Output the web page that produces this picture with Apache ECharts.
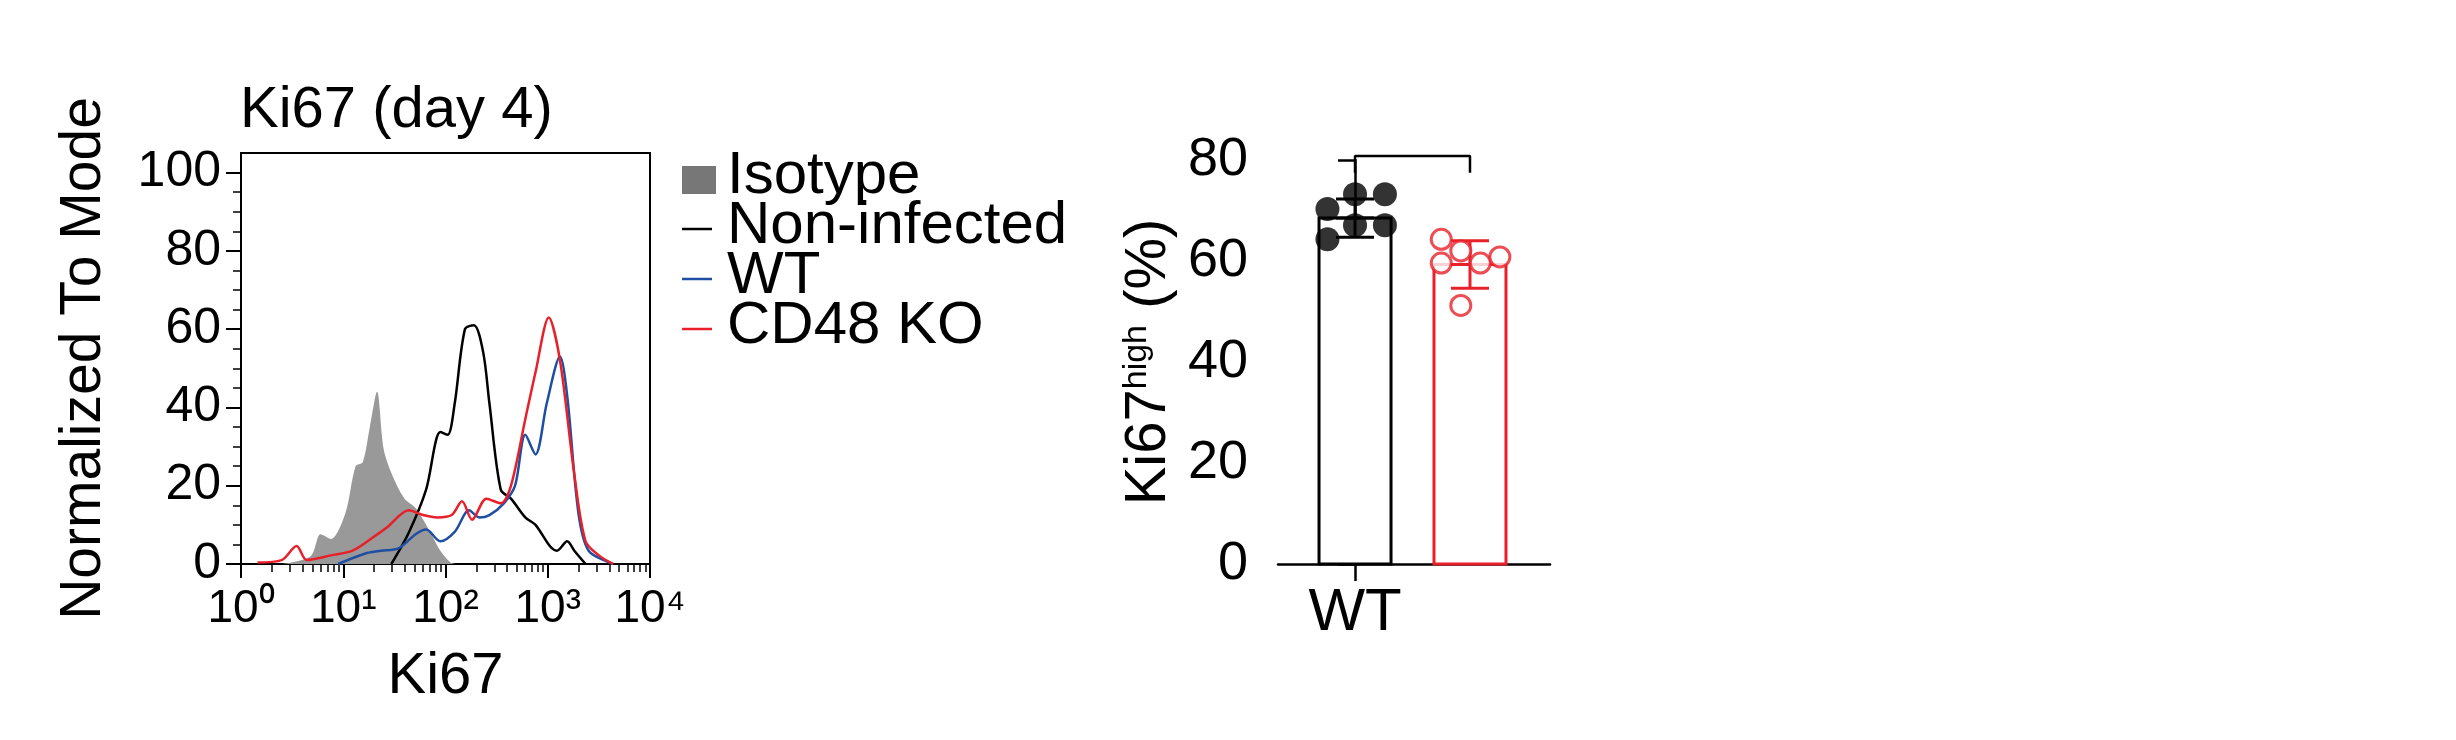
<!DOCTYPE html>
<html><head><meta charset="utf-8">
<script src="https://cdn.jsdelivr.net/npm/echarts@6/dist/echarts.min.js"></script>
<style>html,body{margin:0;background:#fff}#c{width:2456px;height:740px}</style></head>
<body><div id="c"></div>
<script>
// Histogram data: [Ki67 intensity, % of mode]
const isotype = [[2.5,0],[4.8,2],[6.0,7.6],[7.6,6.4],[10.5,13],[13.2,25],[15.5,26],[18.2,35],[21.4,44],[25,29],[31.6,21.5],[39.8,16.7],[51,14.3],[70.8,8.2],[89,3.4],[112,0.4],[130,0]];
const nonInfected = [[29.5,0],[43.7,8],[64.6,19],[89,33.7],[105,33],[123,41],[155,60],[190,61],[234,54],[269,41],[347,19],[437,16.7],[603,11.9],[759,10],[1047,4.6],[1230,3.4],[1549,5.8],[1820,3.4],[2344,0]];
const wtHist = [[8.9,0],[17,2.8],[23.4,3.4],[34.7,4],[51,7.6],[64.6,8.8],[89,5.8],[123,8.2],[170,13.7],[214,11.9],[269,12.5],[372,15.5],[479,20],[603,33],[759,28],[977,41],[1318,53],[1549,43],[1995,13],[2512,3.4],[4365,0]];
const koHist = [[1.45,0.4],[2.5,1],[3.5,4.6],[4.4,1],[7.6,2.2],[12.3,3.4],[20,7],[26.9,9.4],[43.7,13.7],[60.3,12.5],[83,11.9],[115,12.5],[145,16],[182,11.3],[251,16.7],[347,15.5],[437,20],[603,37],[759,49],[1023,63],[1318,52],[1820,22.8],[2344,5.8],[3162,2.2],[4365,0]];
const histYTicks = [0,20,40,60,80,100];
const xTickLabels = {1:'10⁰',10:'10¹',100:'10²',1000:'10³',10000:'10⁴'};
const legendNames = ['Isotype','Non-infected','WT','CD48 KO'];
// Bar chart data
const groups = ['WT','CD48\nKO'];
const means = [68.5, 59.3];
const sds = [3.8, 4.7];
const wtPoints = [[-0.24,70.3],[-0.24,64.3],[0,73.2],[0.26,73.2],[0,67.1],[0.26,67.1]];
const koPoints = [[0.75,64.3],[0.92,62],[0.75,59.6],[1.09,59.6],[1.26,60.8],[0.92,51.2]];
const bracket = [[0,77.5],[0,80.8],[1,80.8],[1,77.5]];
const barYTicks = [0,20,40,60,80];

const BLACK='#000', BLUE='#1f4ea3', RED='#e8202a', GRAY='#999999';
const F='Liberation Sans, Arial, sans-serif';
const chart = echarts.init(document.getElementById('c'));

const barData = means.map((m,i)=>[i,m,sds[i]]);
chart.setOption({
  animation:false,
  grid:[
    {left:241, top:153, width:409, height:411, show:true, borderColor:'#000', borderWidth:2},
    {left:1278, top:160, width:272, height:404}
  ],
  xAxis:[
    {type:'log', gridIndex:0, min:1, max:10000, logBase:10,
     axisLine:{lineStyle:{color:'#000',width:2}},
     axisTick:{length:14,lineStyle:{width:2,color:'#000'}},
     minorTick:{show:true,splitNumber:9,length:8,lineStyle:{color:'#000',width:1.5}},
     splitLine:{show:false}, minorSplitLine:{show:false},
     axisLabel:{fontFamily:F,fontSize:46,color:'#000',margin:22,formatter:v=>xTickLabels[Math.round(v)]||''},
     name:'Ki67', nameLocation:'middle', nameGap:84, nameTextStyle:{fontFamily:F,fontSize:58,color:'#000'}},
    {type:'value', gridIndex:1, min:-0.67, max:1.696,
     axisLine:{lineStyle:{color:'#000',width:2.5}},
     axisTick:{length:17,lineStyle:{width:2.5,color:'#000'},customValues:[0,1]},
     splitLine:{show:false},
     axisLabel:{fontFamily:F,fontSize:60,color:'#000',margin:14,lineHeight:71,customValues:[0,1],showMinLabel:true,hideOverlap:false,
       formatter:v=>Math.abs(Number(v))<0.5?groups[0]:groups[1]}}
  ],
  yAxis:[
    {type:'value', gridIndex:0, min:0, max:105, interval:20,
     axisLine:{show:true,lineStyle:{color:'#000',width:2}},
     axisTick:{show:true,length:15,lineStyle:{width:2,color:'#000'},customValues:histYTicks},
     minorTick:{show:true,splitNumber:4,length:8,lineStyle:{color:'#000',width:1.5}},
     splitLine:{show:false},
     axisLabel:{fontFamily:F,fontSize:50,color:'#000',margin:20,customValues:histYTicks},
     name:'Normalized To Mode', nameLocation:'middle', nameRotate:90, nameGap:128,
     nameTextStyle:{fontFamily:F,fontSize:57,color:'#000'}},
    {type:'value', gridIndex:1, min:0, max:80, interval:20,
     axisLine:{show:true,lineStyle:{color:'#000',width:2.5}},
     axisTick:{show:true,length:17,lineStyle:{width:2.5,color:'#000'},customValues:barYTicks},
     splitLine:{show:false},
     axisLabel:{fontFamily:F,fontSize:54,color:'#000',margin:30,customValues:barYTicks},
     name:'{a|Ki67}{b|high}{a| (%)}', nameLocation:'middle', nameRotate:90, nameGap:100,
     nameTextStyle:{rich:{a:{fontFamily:F,fontSize:58,color:'#000'},b:{fontFamily:F,fontSize:34,color:'#000',verticalAlign:'top',padding:[0,0,22,0]}}}}
  ],
  series:[
    {type:'line',name:legendNames[0],xAxisIndex:0,yAxisIndex:0,data:isotype,smooth:0.3,showSymbol:false,lineStyle:{width:0},areaStyle:{color:GRAY,opacity:1},z:1},
    {type:'line',name:legendNames[1],xAxisIndex:0,yAxisIndex:0,data:nonInfected,smooth:0.3,showSymbol:false,lineStyle:{color:BLACK,width:2.5},z:3},
    {type:'line',name:legendNames[2],xAxisIndex:0,yAxisIndex:0,data:wtHist,smooth:0.3,showSymbol:false,lineStyle:{color:BLUE,width:2.5},z:3},
    {type:'line',name:legendNames[3],xAxisIndex:0,yAxisIndex:0,data:koHist,smooth:0.3,showSymbol:false,lineStyle:{color:RED,width:2.5},z:4},
    {type:'custom',xAxisIndex:1,yAxisIndex:1,data:barData,z:2,clip:false,
     renderItem:(p,api)=>{
       const i=api.value(0), m=api.value(1), s=api.value(2);
       const col=i===0?BLACK:RED;
       const top=api.coord([i,m]), base=api.coord([i,0]);
       const hi=api.coord([i,m+s]), lo=api.coord([i,m-s]);
       const w=72, cw=19;
       return {type:'group',children:[
         {type:'rect',shape:{x:top[0]-w/2,y:top[1],width:w,height:base[1]-top[1]},style:{fill:'#fff',stroke:col,lineWidth:3}},
         {type:'line',shape:{x1:hi[0],y1:hi[1],x2:lo[0],y2:lo[1]},style:{stroke:col,lineWidth:3}},
         {type:'line',shape:{x1:hi[0]-cw,y1:hi[1],x2:hi[0]+cw,y2:hi[1]},style:{stroke:col,lineWidth:3}},
         {type:'line',shape:{x1:lo[0]-cw,y1:lo[1],x2:lo[0]+cw,y2:lo[1]},style:{stroke:col,lineWidth:3}},
         {type:'line',shape:{x1:top[0]-cw,y1:top[1],x2:top[0]+cw,y2:top[1]},style:{stroke:col,lineWidth:3}}
       ]};
     }},
    {type:'scatter',xAxisIndex:1,yAxisIndex:1,data:wtPoints,symbolSize:24,itemStyle:{color:BLACK},z:5},
    {type:'scatter',xAxisIndex:1,yAxisIndex:1,data:koPoints,symbolSize:20,itemStyle:{color:'#fff',borderColor:RED,borderWidth:3},z:5},
    {type:'line',xAxisIndex:1,yAxisIndex:1,data:bracket,clip:false,showSymbol:false,lineStyle:{color:'#000',width:2.5},z:5,
     markPoint:{symbol:'rect',symbolSize:1,data:[{coord:[0.5,80.8],label:{show:true,formatter:'**',fontFamily:F,fontSize:40,color:'#000',offset:[0,-36]}}],itemStyle:{color:'transparent'}}}
  ],
  graphic:[
    {type:'text',left:240,top:82,style:{text:'Ki67 (day 4)',fontFamily:F,fontSize:58,fill:'#000'}},
    {type:'rect',shape:{x:682,y:166,width:34,height:28},style:{fill:'#777'}},
    {type:'line',shape:{x1:682,y1:229,x2:712,y2:229},style:{stroke:BLACK,lineWidth:2.5}},
    {type:'line',shape:{x1:682,y1:279,x2:712,y2:279},style:{stroke:BLUE,lineWidth:2.5}},
    {type:'line',shape:{x1:682,y1:329,x2:712,y2:329},style:{stroke:RED,lineWidth:2.5}},
    {type:'text',x:727,y:176,style:{text:legendNames[0],fontFamily:F,fontSize:60,fill:'#000',verticalAlign:'middle'}},
    {type:'text',x:727,y:226,style:{text:legendNames[1],fontFamily:F,fontSize:60,fill:'#000',verticalAlign:'middle'}},
    {type:'text',x:727,y:276,style:{text:legendNames[2],fontFamily:F,fontSize:60,fill:'#000',verticalAlign:'middle'}},
    {type:'text',x:727,y:326,style:{text:legendNames[3],fontFamily:F,fontSize:60,fill:'#000',verticalAlign:'middle'}}
  ]
});
</script></body></html>
